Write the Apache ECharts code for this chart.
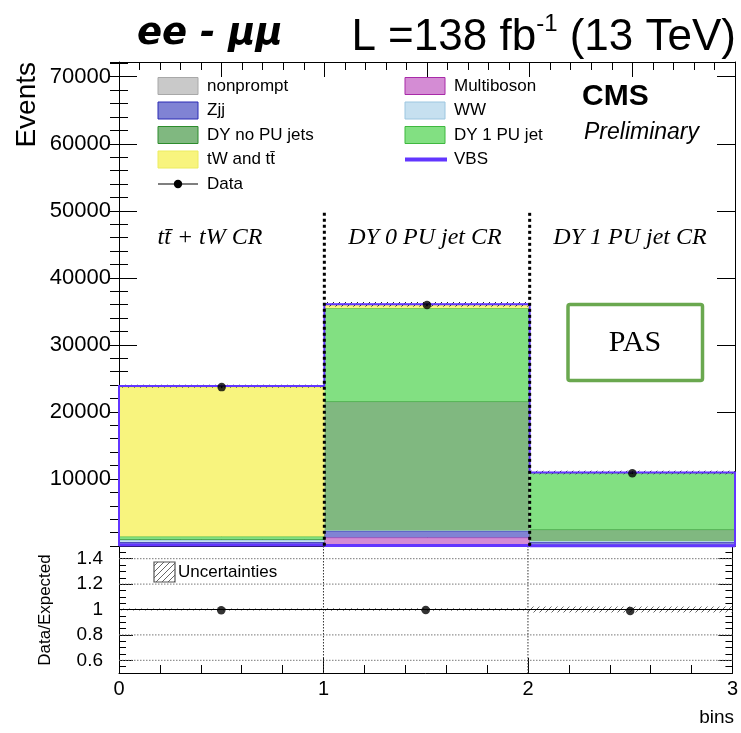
<!DOCTYPE html>
<html>
<head>
<meta charset="utf-8">
<title>ee - μμ control regions</title>
<script src="https://cdn.jsdelivr.net/npm/echarts@6/dist/echarts.min.js"></script>
<style>
  html, body { margin: 0; padding: 0; background: #ffffff; }
  #chart { width: 741px; height: 733px; }
</style>
</head>
<body>
<div id="chart"></div>
<script>
// ---- values per control-region bin ----
const binEdges = [0, 1, 2, 3];
const regionLabels = ['tt\u0304 + tW CR', 'DY 0 PU jet CR', 'DY 1 PU jet CR'];

// stacked backgrounds, listed bottom to top
const nonprompt  = [100, 150, 50];
const multiboson = [80, 1100, 100];
const zjj        = [400, 1000, 450];
const ww         = [300, 50, 150];
const dyNoPU     = [120, 19250, 1700];
const dy1PU      = [400, 13900, 8450];
const ttbarTW    = [22300, 550, 40];
const vbs        = [150, 60, 30];

const observed   = [23700, 35950, 10850];
const totalUnc   = [200, 350, 250];

const eventsMax   = 72200;
const eventsTicks = [10000, 20000, 30000, 40000, 50000, 60000, 70000];
const ratioTicks  = [0.6, 0.8, 1, 1.2, 1.4];
const separatorTop = 49700;

// ---- process table (stack order bottom -> top) ----
const processes = [
  { name: 'nonprompt',      values: nonprompt,  fill: '#c9c9c9', line: '#a8a8a8' },
  { name: 'Multiboson',     values: multiboson, fill: '#d48cd4', line: '#a82aa8' },
  { name: 'Zjj',            values: zjj,        fill: '#8083d4', line: '#2a2ab4' },
  { name: 'WW',             values: ww,         fill: '#c6e0f0', line: '#9cc6e0' },
  { name: 'DY no PU jets',  values: dyNoPU,     fill: '#80b880', line: '#2c8c2c' },
  { name: 'DY 1 PU jet',    values: dy1PU,      fill: '#82e082', line: '#3fb83f' },
  { name: 'tW and tt\u0304', values: ttbarTW,   fill: '#f8f47e', line: '#ecec60' },
  { name: 'VBS',            values: vbs,        fill: '#6236ff', line: '#6236ff' }
];
const byName = {};
processes.forEach(p => { byName[p.name] = p; });

const nBins = binEdges.length - 1;
const centers = [];
for (let i = 0; i < nBins; i++) centers.push((binEdges[i] + binEdges[i + 1]) / 2);

// cumulative stack
const cumulative = new Array(nBins).fill(0);
const layerData = processes.map(p => {
  return p.values.map((v, i) => {
    const lo = cumulative[i];
    cumulative[i] += v;
    return [binEdges[i], binEdges[i + 1], lo, cumulative[i]];
  });
});
const totals = cumulative.slice();
const ratio = observed.map((d, i) => d / totals[i]);
const ratioUnc = totalUnc.map((u, i) => u / totals[i]);

// ---- hatch pattern for uncertainty bands ----
function makeHatch(color, step, width) {
  const c = document.createElement('canvas');
  c.width = step; c.height = step;
  const g = c.getContext('2d');
  g.strokeStyle = color;
  g.lineWidth = width;
  g.beginPath();
  g.moveTo(0, step); g.lineTo(step, 0);
  g.moveTo(-1, 1); g.lineTo(1, -1);
  g.moveTo(step - 1, step + 1); g.lineTo(step + 1, step - 1);
  g.stroke();
  return c;
}
const hatchDark = { image: makeHatch('#222222', 6, 1), repeat: 'repeat' };
const hatchGrey = { image: makeHatch('#666666', 6, 1), repeat: 'repeat' };

// ---- series ----
const series = [];

processes.forEach((p, k) => {
  series.push({
    type: 'custom',
    name: p.name,
    xAxisIndex: 0, yAxisIndex: 0,
    z: 2 + k * 0.01,
    silent: true,
    data: layerData[k],
    renderItem: function (params, api) {
      const a = api.coord([api.value(0), api.value(3)]);
      const b = api.coord([api.value(1), api.value(2)]);
      return {
        type: 'group',
        children: [
          { type: 'rect', shape: { x: a[0], y: a[1], width: b[0] - a[0], height: b[1] - a[1] },
            style: { fill: p.fill } },
          { type: 'line', shape: { x1: a[0], y1: a[1], x2: b[0], y2: a[1] },
            style: { stroke: p.line, lineWidth: 1 } }
        ]
      };
    }
  });
});

// uncertainty band on the stack total
series.push({
  type: 'custom', xAxisIndex: 0, yAxisIndex: 0, z: 4, silent: true,
  data: totals.map((t, i) => [binEdges[i], binEdges[i + 1], t - totalUnc[i], t + totalUnc[i]]),
  renderItem: function (params, api) {
    const a = api.coord([api.value(0), api.value(3)]);
    const b = api.coord([api.value(1), api.value(2)]);
    return { type: 'rect', shape: { x: a[0], y: a[1], width: b[0] - a[0], height: b[1] - a[1] },
             style: { fill: hatchDark } };
  }
});

// outline of the full stack (VBS on top)
series.push({
  type: 'custom', xAxisIndex: 0, yAxisIndex: 0, z: 5, silent: true,
  data: totals.map((t, i) => [binEdges[i], binEdges[i + 1], t, i > 0 ? totals[i - 1] : 0, i === nBins - 1 ? 1 : 0]),
  renderItem: function (params, api) {
    const x0 = api.value(0), x1 = api.value(1), t = api.value(2), prev = api.value(3);
    const pts = [api.coord([x0, prev]), api.coord([x0, t]), api.coord([x1, t])];
    if (api.value(4)) pts.push(api.coord([x1, 0]));
    return { type: 'polyline', shape: { points: pts },
             style: { stroke: byName['VBS'].line, lineWidth: 2, fill: null } };
  }
});

// VBS on its own
series.push({
  type: 'custom', xAxisIndex: 0, yAxisIndex: 0, z: 5, silent: true,
  data: vbs.map((v, i) => [binEdges[i], binEdges[i + 1], v]),
  renderItem: function (params, api) {
    const a = api.coord([api.value(0), api.value(2)]);
    const b = api.coord([api.value(1), api.value(2)]);
    return { type: 'line', shape: { x1: a[0], y1: a[1], x2: b[0], y2: b[1] },
             style: { stroke: byName['VBS'].line, lineWidth: 3 } };
  }
});

// dotted separators between control regions
series.push({
  type: 'custom', xAxisIndex: 0, yAxisIndex: 0, z: 6, silent: true,
  data: binEdges.slice(1, -1).map(x => [x, separatorTop]),
  renderItem: function (params, api) {
    const a = api.coord([api.value(0), api.value(1)]);
    const b = api.coord([api.value(0), 0]);
    return { type: 'line', shape: { x1: a[0], y1: a[1], x2: b[0], y2: b[1] },
             style: { stroke: '#000', lineWidth: 3, lineDash: [3, 3] } };
  }
});

// data: statistical error bars and markers
series.push({
  type: 'custom', xAxisIndex: 0, yAxisIndex: 0, z: 7, silent: true,
  data: observed.map((d, i) => [centers[i], d - Math.sqrt(d), d + Math.sqrt(d)]),
  renderItem: function (params, api) {
    const a = api.coord([api.value(0), api.value(2)]);
    const b = api.coord([api.value(0), api.value(1)]);
    return { type: 'line', shape: { x1: a[0], y1: a[1], x2: b[0], y2: b[1] },
             style: { stroke: '#000', lineWidth: 1.5 } };
  }
});
series.push({
  type: 'scatter', name: 'Data', xAxisIndex: 0, yAxisIndex: 0, z: 8, silent: true,
  symbol: 'circle', symbolSize: 8.5, itemStyle: { color: '#000' },
  data: observed.map((d, i) => [centers[i], d])
});

// ---- ratio panel ----
series.push({
  type: 'custom', xAxisIndex: 2, yAxisIndex: 4, z: 2, silent: true,
  data: ratioTicks.filter(v => v !== 1).map(v => [v]),
  renderItem: function (params, api) {
    const a = api.coord([binEdges[0], api.value(0)]);
    const b = api.coord([binEdges[nBins], api.value(0)]);
    return { type: 'line', shape: { x1: a[0], y1: a[1], x2: b[0], y2: b[1] },
             style: { stroke: '#777', lineWidth: 1, lineDash: [1.5, 1.5] } };
  }
});
series.push({
  type: 'custom', xAxisIndex: 2, yAxisIndex: 4, z: 2, silent: true,
  data: binEdges.slice(1, -1).map(x => [x]),
  renderItem: function (params, api) {
    const a = api.coord([api.value(0), 1.5]);
    const b = api.coord([api.value(0), 0.5]);
    return { type: 'line', shape: { x1: a[0], y1: a[1], x2: b[0], y2: b[1] },
             style: { stroke: '#333', lineWidth: 1, lineDash: [1.5, 1.5] } };
  }
});
series.push({
  type: 'custom', xAxisIndex: 2, yAxisIndex: 4, z: 3, silent: true,
  data: ratioUnc.map((u, i) => [binEdges[i], binEdges[i + 1], 1 - u, 1 + u]),
  renderItem: function (params, api) {
    const a = api.coord([api.value(0), api.value(3)]);
    const b = api.coord([api.value(1), api.value(2)]);
    return { type: 'rect', shape: { x: a[0], y: a[1], width: b[0] - a[0], height: b[1] - a[1] },
             style: { fill: hatchGrey } };
  }
});
series.push({
  type: 'custom', xAxisIndex: 2, yAxisIndex: 4, z: 4, silent: true,
  data: [[1]],
  renderItem: function (params, api) {
    const a = api.coord([binEdges[0], api.value(0)]);
    const b = api.coord([binEdges[nBins], api.value(0)]);
    return { type: 'line', shape: { x1: a[0], y1: a[1], x2: b[0], y2: b[1] },
             style: { stroke: '#000', lineWidth: 1.2 } };
  }
});
series.push({
  type: 'scatter', xAxisIndex: 2, yAxisIndex: 4, z: 6, silent: true,
  symbol: 'circle', symbolSize: 8.5, itemStyle: { color: '#000' },
  data: ratio.map((r, i) => [centers[i], r])
});

// ---- axes ----
const FONT = 'Liberation Sans, Arial, Helvetica, sans-serif';
const black = { color: '#000', width: 1 };
function xAxisDef(grid, pos, interval, major, minor, labels) {
  return {
    type: 'value', gridIndex: grid, position: pos, min: binEdges[0], max: binEdges[nBins], interval: interval,
    axisLine: { show: true, onZero: false, lineStyle: black },
    axisTick: { show: true, inside: true, length: major, lineStyle: black },
    minorTick: { show: true, splitNumber: minor, length: 8, lineStyle: black },
    axisLabel: labels ? { show: true, color: '#000', fontSize: 20, fontFamily: FONT, margin: 6,
                          formatter: v => String(v) } : { show: false },
    splitLine: { show: false }, minorSplitLine: { show: false }
  };
}
function yAxisDef(grid, pos, opts) {
  return Object.assign({
    type: 'value', gridIndex: grid, position: pos,
    axisLine: { show: false, lineStyle: black },
    axisTick: { show: true, inside: true, lineStyle: black },
    axisLabel: { show: false },
    splitLine: { show: false }
  }, opts);
}

const xAxes = [
  xAxisDef(0, 'bottom', 0.5, 15, 5, false),
  xAxisDef(0, 'top', 0.5, 15, 5, false),
  xAxisDef(1, 'bottom', 1, 15, 5, true)
];

const yAxes = [
  // events: labelled major ticks
  yAxisDef(0, 'left', { min: 0, max: eventsMax,
    axisLine: { show: true, onZero: false, lineStyle: black },
    axisTick: { show: true, inside: true, length: 18, lineStyle: black, customValues: eventsTicks },
    axisLabel: { show: true, customValues: eventsTicks, color: '#000', fontSize: 22, fontFamily: FONT, margin: 8,
                 formatter: v => String(Math.round(v)) } }),
  yAxisDef(0, 'left', { min: 0, max: eventsMax, interval: 2000,
    axisTick: { show: true, inside: true, length: 9, lineStyle: black } }),
  yAxisDef(0, 'right', { min: 0, max: eventsMax,
    axisLine: { show: true, onZero: false, lineStyle: black },
    axisTick: { show: true, inside: true, length: 18, lineStyle: black, customValues: eventsTicks } }),
  yAxisDef(0, 'right', { min: 0, max: eventsMax, interval: 2000,
    axisTick: { show: true, inside: true, length: 9, lineStyle: black } }),
  // ratio
  yAxisDef(1, 'left', { min: 0.5, max: 1.5,
    axisLine: { show: true, onZero: false, lineStyle: black },
    axisTick: { show: true, inside: true, length: 14, lineStyle: black, customValues: ratioTicks },
    axisLabel: { show: true, customValues: ratioTicks, color: '#000', fontSize: 19, fontFamily: FONT, margin: 16,
                 formatter: v => String(Math.round(v * 10) / 10) } }),
  yAxisDef(1, 'left', { min: 0.5, max: 1.5, interval: 0.05,
    axisTick: { show: true, inside: true, length: 7, lineStyle: black } }),
  yAxisDef(1, 'right', { min: 0.5, max: 1.5,
    axisLine: { show: true, onZero: false, lineStyle: black },
    axisTick: { show: true, inside: true, length: 14, lineStyle: black, customValues: ratioTicks } }),
  yAxisDef(1, 'right', { min: 0.5, max: 1.5, interval: 0.05,
    axisTick: { show: true, inside: true, length: 7, lineStyle: black } })
];

// ---- legend and annotations ----
const graphics = [];
function txt(x, y, text, font, extra) {
  return {
    type: 'text', x: x, y: y, silent: true,
    style: Object.assign({ text: text, font: font, fill: '#000',
      align: 'left', verticalAlign: 'middle', textAlign: 'left', textVerticalAlign: 'middle' }, extra || {})
  };
}

const legendCols = [
  ['nonprompt', 'Zjj', 'DY no PU jets', 'tW and tt\u0304', 'Data'],
  ['Multiboson', 'WW', 'DY 1 PU jet', 'VBS']
];
const legendX = [158, 405];
const legendY0 = 86, legendDy = 24.5;
legendCols.forEach((col, c) => {
  col.forEach((name, r) => {
    const x = legendX[c], y = legendY0 + r * legendDy;
    if (name === 'Data') {
      graphics.push({ type: 'line', silent: true, shape: { x1: x, y1: y, x2: x + 40, y2: y }, style: { stroke: '#000', lineWidth: 1.2 } });
      graphics.push({ type: 'circle', silent: true, shape: { cx: x + 20, cy: y, r: 4.2 }, style: { fill: '#000' } });
    } else if (name === 'VBS') {
      graphics.push({ type: 'line', silent: true, shape: { x1: x, y1: y, x2: x + 42, y2: y }, style: { stroke: byName[name].line, lineWidth: 4 } });
    } else {
      const p = byName[name];
      graphics.push({ type: 'rect', silent: true, shape: { x: x, y: y - 8.5, width: 40, height: 17 },
        style: { fill: p.fill, stroke: p.line, lineWidth: 1 } });
    }
    graphics.push(txt(x + 49, y, name, '17px ' + FONT));
  });
});

graphics.push(txt(582, 97, 'CMS', 'bold 30px ' + FONT));
graphics.push(txt(584, 133, 'Preliminary', 'italic 23px ' + FONT));

graphics.push(txt(137, 34, 'ee - μμ', 'italic bold 37px DejaVu Sans, sans-serif'));
graphics.push({
  type: 'text', x: 736, y: 36, silent: true,
  style: {
    text: '{a|L =138 fb}{s|-1}{a| (13 TeV)}',
    align: 'right', verticalAlign: 'middle', textAlign: 'right', textVerticalAlign: 'middle',
    rich: {
      a: { fontSize: 44, fontFamily: FONT, fill: '#000', verticalAlign: 'bottom', lineHeight: 48 },
      s: { fontSize: 24, fontFamily: FONT, fill: '#000', verticalAlign: 'top', lineHeight: 48 }
    }
  }
});

// control-region captions
const captionX = [210, 425, 630];
regionLabels.forEach((lab, i) => {
  graphics.push(txt(captionX[i], 238, lab, 'italic 24px Liberation Serif, Times New Roman, serif',
    { align: 'center', textAlign: 'center' }));
});

// PAS box
graphics.push({ type: 'rect', silent: true, shape: { x: 568, y: 304.5, width: 134.5, height: 76, r: 2 },
  style: { fill: '#fff', stroke: '#6aa84f', lineWidth: 3.5 }, z: 10 });
graphics.push(Object.assign(txt(635, 343, 'PAS', '30px Liberation Serif, Times New Roman, serif',
  { align: 'center', textAlign: 'center' }), { z: 11 }));

// axis titles
graphics.push(Object.assign(txt(27, 62, 'Events', '28px ' + FONT,
  { align: 'right', textAlign: 'right' }), { rotation: Math.PI / 2 }));
graphics.push(Object.assign(txt(45, 610, 'Data/Expected', '17px ' + FONT,
  { align: 'center', textAlign: 'center' }), { rotation: Math.PI / 2 }));
graphics.push(txt(734, 718, 'bins', '19px ' + FONT, { align: 'right', textAlign: 'right' }));

// ratio legend
graphics.push({ type: 'rect', silent: true, shape: { x: 154, y: 562, width: 21, height: 20 },
  style: { fill: hatchGrey, stroke: '#555', lineWidth: 1.2 } });
graphics.push(txt(178, 572, 'Uncertainties', '17px ' + FONT));

const chart = echarts.init(document.getElementById('chart'), null, { renderer: 'canvas' });
chart.setOption({
  animation: false,
  backgroundColor: '#ffffff',
  textStyle: { fontFamily: FONT },
  grid: [
    { left: 119, top: 62, width: 616, height: 484 },
    { left: 119, top: 546, width: 616, height: 127 }
  ],
  xAxis: xAxes,
  yAxis: yAxes,
  series: series,
  graphic: { elements: graphics }
});
</script>
</body>
</html>
